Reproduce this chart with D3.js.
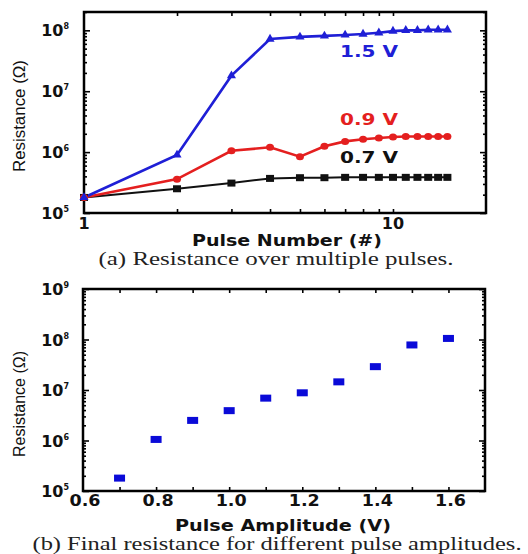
<!DOCTYPE html>
<html><head><meta charset="utf-8">
<script src="https://cdn.jsdelivr.net/npm/d3@7"></script>
<style>
body{margin:0;background:#fff;}
svg{display:block;}
</style></head>
<body>
<svg id="c" width="528" height="554"></svg>
<script>
// ---- data (a) ----
const pulses = [1,2,3,4,5,6,7,8,9,10,11,12,13,14,15];
const r07 = [1.8e5,2.5e5,3.1e5,3.7e5,3.8e5,3.8e5,3.85e5,3.85e5,3.85e5,3.85e5,3.85e5,3.85e5,3.85e5,3.85e5,3.85e5];
const r09 = [1.8e5,3.6e5,1.05e6,1.2e6,8.4e5,1.25e6,1.5e6,1.63e6,1.7e6,1.77e6,1.8e6,1.8e6,1.8e6,1.8e6,1.8e6];
const r15 = [1.8e5,9e5,1.8e7,7.2e7,7.8e7,8.1e7,8.4e7,8.7e7,9.1e7,9.7e7,1.0e8,1.0e8,1.02e8,1.02e8,1.02e8];
const seriesNames = ["0.7 V","0.9 V","1.5 V"];
const xTicksA = [1,10];
const yTicksA = [5,6,7,8];
// ---- data (b) ----
const amps = [0.7,0.8,0.9,1.0,1.1,1.2,1.3,1.4,1.5,1.6];
const finalR = [1.8e5,1.05e6,2.5e6,3.9e6,6.9e6,8.8e6,1.45e7,2.9e7,7.8e7,1.05e8];
const xTicksB = [0.6,0.8,1.0,1.2,1.4,1.6];
const yTicksB = [5,6,7,8,9];
const captions = ["(a) Resistance over multiple pulses.","(b) Final resistance for different pulse amplitudes."];

const svg = d3.select("#c");
const tickFont = "DejaVu Sans, sans-serif";

function minorLog(lo, hi){
  const out=[];
  for(let e=lo;e<hi;e++) for(let k=2;k<=9;k++) out.push(k*Math.pow(10,e));
  return out;
}

function frame(g, L,R,T,B){
  g.append("rect").attr("x",L).attr("y",T).attr("width",R-L).attr("height",B-T)
   .attr("fill","none").attr("stroke","#000").attr("stroke-width",2.5);
}

function yLabels(g, y, exps, xEnd){
  exps.forEach(e=>{
    const t = g.append("text").attr("x",xEnd).attr("y",y(Math.pow(10,e))+6)
      .attr("text-anchor","end").attr("font-family",tickFont).attr("font-weight","bold")
      .attr("font-size",16).attr("fill","#111");
    t.append("tspan").text("10");
    t.append("tspan").attr("font-size",8).attr("dy",-7).text(e);
  });
}

function ticks(g, axisGen, tx, ty){
  const a = g.append("g").attr("transform",`translate(${tx},${ty})`).call(axisGen);
  a.select(".domain").remove();
  a.selectAll("line").attr("stroke","#000").attr("stroke-width",1.6);
  a.selectAll("text").remove();
  return a;
}

// ================= chart (a) =================
{
  const L=84,R=486,T=12,B=213;
  const g = svg.append("g");
  const x = d3.scaleLog().domain([1,20]).range([L,R]);
  const y = d3.scaleLog().domain([1e5,2e8]).range([B,T]);
  frame(g,L,R,T,B);
  const xMinor = [2,3,4,5,6,7,8,9,10];
  ticks(g, d3.axisTop(x).tickValues(xMinor).tickSize(4).tickFormat(""), 0, B);
  ticks(g, d3.axisBottom(x).tickValues(xMinor).tickSize(4).tickFormat(""), 0, T);
  const yMaj = yTicksA.map(e=>Math.pow(10,e));
  const yMin = minorLog(5,8).concat([2e8]);
  ticks(g, d3.axisRight(y).tickValues(yMaj).tickSize(6).tickFormat(""), L, 0);
  ticks(g, d3.axisRight(y).tickValues(yMin).tickSize(3).tickFormat(""), L, 0);
  ticks(g, d3.axisLeft(y).tickValues(yMaj).tickSize(6).tickFormat(""), R, 0);
  ticks(g, d3.axisLeft(y).tickValues(yMin).tickSize(3).tickFormat(""), R, 0);
  yLabels(g, y, yTicksA, 69);
  xTicksA.forEach(v=>{
    g.append("text").attr("x",x(v)).attr("y",229).attr("text-anchor","middle")
     .attr("font-family",tickFont).attr("font-weight","bold").attr("font-size",16).attr("fill","#111").text(v);
  });
  const line = d3.line().x((d,i)=>x(pulses[i])).y(d=>y(d));
  const cols = ["#111111","#e41f1f","#1f1fd6"];
  [r07,r09,r15].forEach((s,k)=>{
    g.append("path").attr("d",line(s)).attr("fill","none").attr("stroke",cols[k]).attr("stroke-width",k==0?2:2.6);
  });
  // markers
  g.selectAll(".sq").data(r07).enter().append("rect")
   .attr("x",(d,i)=>x(pulses[i])-4).attr("y",d=>y(d)-3.5).attr("width",8).attr("height",7).attr("fill",cols[0]);
  g.selectAll(".ci").data(r09).enter().append("ellipse")
   .attr("cx",(d,i)=>x(pulses[i])).attr("cy",d=>y(d)).attr("rx",4).attr("ry",3.5).attr("fill",cols[1]);
  const tri = d3.symbol().type(d3.symbolTriangle).size(36);
  g.selectAll(".tr").data(r15).enter().append("path")
   .attr("d",tri).attr("transform",(d,i)=>`translate(${x(pulses[i])},${y(d)})`).attr("fill",cols[2]);
  // series labels
  const lab = [[seriesNames[2],57,cols[2]],[seriesNames[1],125,cols[1]],[seriesNames[0],163,cols[0]]];
  lab.forEach(([t,yy,c])=>{
    g.append("text").attr("x",340).attr("y",yy).attr("font-family",tickFont).attr("font-weight","bold")
     .attr("font-size",16).attr("fill",c).attr("textLength",58).attr("lengthAdjust","spacingAndGlyphs").text(t);
  });
  g.append("text").attr("x",287).attr("y",246).attr("text-anchor","middle")
   .attr("font-family",tickFont).attr("font-weight","bold").attr("font-size",15).attr("fill","#111")
   .attr("textLength",190).attr("lengthAdjust","spacingAndGlyphs").text("Pulse Number (#)");
  g.append("text").attr("transform","translate(25,116) rotate(-90)").attr("text-anchor","middle")
   .attr("font-family","Liberation Sans, Arial, sans-serif").attr("font-size",17).attr("fill","#111")
   .attr("textLength",112).attr("lengthAdjust","spacingAndGlyphs").text("Resistance (Ω)");
  g.append("text").attr("x",276).attr("y",265).attr("text-anchor","middle")
   .attr("font-family","Liberation Serif, Times New Roman, serif").attr("font-size",18).attr("fill","#222")
   .attr("textLength",355).attr("lengthAdjust","spacingAndGlyphs").text(captions[0]);
}

// ================= chart (b) =================
{
  const L=83,R=485,T=289,B=491;
  const g = svg.append("g");
  const x = d3.scaleLinear().domain([0.6,1.7]).range([L,R]);
  const y = d3.scaleLog().domain([1e5,1e9]).range([B,T]);
  frame(g,L,R,T,B);
  const xt = d3.range(7,17).map(v=>v/10);
  ticks(g, d3.axisTop(x).tickValues(xt).tickSize(4).tickFormat(""), 0, B);
  ticks(g, d3.axisBottom(x).tickValues(xt).tickSize(4).tickFormat(""), 0, T);
  const yMaj = yTicksB.map(e=>Math.pow(10,e));
  const yMin = minorLog(5,9);
  ticks(g, d3.axisRight(y).tickValues(yMaj).tickSize(6).tickFormat(""), L, 0);
  ticks(g, d3.axisRight(y).tickValues(yMin).tickSize(3).tickFormat(""), L, 0);
  ticks(g, d3.axisLeft(y).tickValues(yMaj).tickSize(6).tickFormat(""), R, 0);
  ticks(g, d3.axisLeft(y).tickValues(yMin).tickSize(3).tickFormat(""), R, 0);
  yLabels(g, y, yTicksB, 69);
  xTicksB.forEach(v=>{
    g.append("text").attr("x",x(v)+2).attr("y",506).attr("text-anchor","middle")
     .attr("font-family",tickFont).attr("font-weight","bold").attr("font-size",16).attr("fill","#111")
     .attr("textLength",31).attr("lengthAdjust","spacingAndGlyphs").text(v.toFixed(1));
  });
  g.selectAll(".pt").data(finalR).enter().append("rect")
   .attr("x",(d,i)=>x(amps[i])-5.5).attr("y",d=>y(d)-3.5).attr("width",11).attr("height",7).attr("fill","#0a0ad8");
  g.append("text").attr("x",283).attr("y",531).attr("text-anchor","middle")
   .attr("font-family",tickFont).attr("font-weight","bold").attr("font-size",15).attr("fill","#111")
   .attr("textLength",216).attr("lengthAdjust","spacingAndGlyphs").text("Pulse Amplitude (V)");
  g.append("text").attr("transform","translate(25,404) rotate(-90)").attr("text-anchor","middle")
   .attr("font-family","Liberation Sans, Arial, sans-serif").attr("font-size",17).attr("fill","#111")
   .attr("textLength",106).attr("lengthAdjust","spacingAndGlyphs").text("Resistance (Ω)");
  g.append("text").attr("x",277).attr("y",550).attr("text-anchor","middle")
   .attr("font-family","Liberation Serif, Times New Roman, serif").attr("font-size",18).attr("fill","#222")
   .attr("textLength",489).attr("lengthAdjust","spacingAndGlyphs").text(captions[1]);
}
</script>
</body></html>
